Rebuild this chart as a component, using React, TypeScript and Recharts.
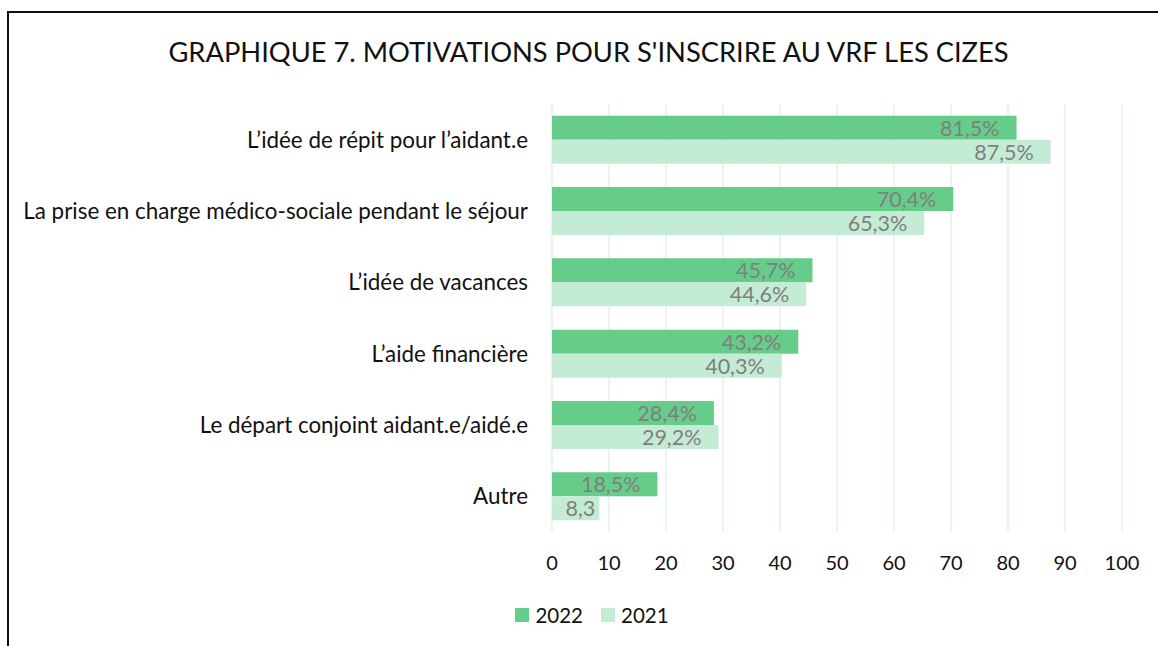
import { Bar, BarChart, CartesianGrid, LabelList, Legend, XAxis, YAxis } from 'recharts'

const categories = [
  'L’idée de répit pour l’aidant.e',
  'La prise en charge médico-sociale pendant le séjour',
  'L’idée de vacances',
  'L’aide financière',
  'Le départ conjoint aidant.e/aidé.e',
  'Autre',
]
const values2022 = [81.5, 70.4, 45.7, 43.2, 28.4, 18.5]
const values2021 = [87.5, 65.3, 44.6, 40.3, 29.2, 8.3]
const labels2022 = ['81,5%', '70,4%', '45,7%', '43,2%', '28,4%', '18,5%']
const labels2021 = ['87,5%', '65,3%', '44,6%', '40,3%', '29,2%', '8,3']
const xTicks = [0, 10, 20, 30, 40, 50, 60, 70, 80, 90, 100]

const FONT = 'Lato, "Open Sans", sans-serif'
const GREEN = '#66cc8a'
const LIGHT = '#c4ebd3'

const data = categories.map((name, i) => ({
  name,
  v2022: values2022[i],
  v2021: values2021[i],
  l2022: labels2022[i],
  l2021: labels2021[i],
}))

function BarLabel(props: any) {
  const { x, y, width, height, value } = props
  const offset = width < 60 ? 4 : 17
  return (
    <text
      x={x + width - offset}
      y={y + height / 2}
      textAnchor="end"
      dominantBaseline="central"
      fill="#7f7f7f"
      fontSize={21.5}
      fontFamily={FONT}
    >
      {value}
    </text>
  )
}

function LegendBox() {
  const items = [
    { label: '2022', color: GREEN },
    { label: '2021', color: LIGHT },
  ]
  return (
    <div style={{ display: 'flex', justifyContent: 'center', gap: 18, fontFamily: FONT, fontSize: 20.5, color: '#111' }}>
      {items.map((it) => (
        <div key={it.label} style={{ display: 'flex', alignItems: 'center' }}>
          <span style={{ width: 14, height: 14, background: it.color, marginRight: 6, display: 'inline-block' }} />
          <span>{it.label}</span>
        </div>
      ))}
    </div>
  )
}

export default function App() {
  return (
    <div style={{ position: 'absolute', left: 0, top: 0, width: 1158, height: 646, overflow: 'hidden', background: '#fff' }}>
      <div
        style={{
          position: 'absolute',
          left: 7,
          top: 11,
          width: 1200,
          height: 700,
          borderLeft: '2px solid #111',
          borderTop: '2px solid #111',
        }}
      />
      <div
        style={{
          position: 'absolute',
          top: 34,
          left: 0,
          width: 1177,
          textAlign: 'center',
          fontFamily: FONT,
          fontSize: 27.3,
          color: '#111',
          lineHeight: '36px',
        }}
      >
        GRAPHIQUE 7. MOTIVATIONS POUR S'INSCRIRE AU VRF LES CIZES
      </div>
      <BarChart
        width={1158}
        height={646}
        data={data}
        layout="vertical"
        margin={{ top: 104, right: 36, bottom: 84, left: 0 }}
        barCategoryGap="16.4%"
        barGap={0}
      >
        <CartesianGrid horizontal={false} stroke="#e0f3e8" strokeWidth={1.5} />
        <XAxis
          type="number"
          domain={[0, 100]}
          ticks={xTicks}
          axisLine={false}
          tickLine={false}
          tickMargin={18}
          interval={0}
          tick={{ fill: '#111', fontSize: 20, fontFamily: FONT }}
        />
        <YAxis
          type="category"
          dataKey="name"
          width={552}
          axisLine={false}
          tickLine={false}
          tickMargin={18}
          interval={0}
          tick={{ fill: '#111', fontSize: 22.4, fontFamily: FONT }}
        />
        <Legend verticalAlign="middle" wrapperStyle={{ top: 603, left: 0, width: 1184 }} content={() => <LegendBox />} />
        <Bar dataKey="v2022" name="2022" fill={GREEN} isAnimationActive={false}>
          <LabelList dataKey="l2022" content={BarLabel} />
        </Bar>
        <Bar dataKey="v2021" name="2021" fill={LIGHT} isAnimationActive={false}>
          <LabelList dataKey="l2021" content={BarLabel} />
        </Bar>
      </BarChart>
    </div>
  )
}
